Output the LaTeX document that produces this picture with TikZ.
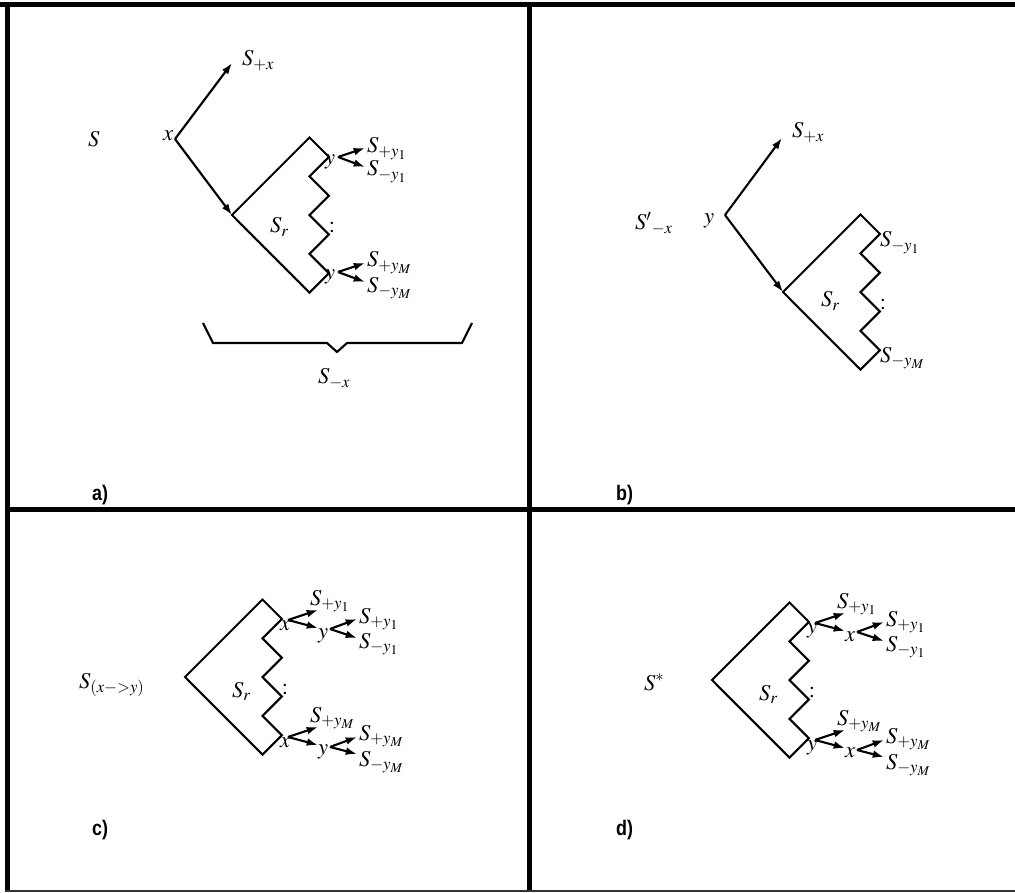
\documentclass[tikz,border=0pt]{standalone}
\usepackage{mathptmx}
\usepackage[no-math]{fontspec}
\newfontfamily\tagfont[FakeStretch=0.85]{Liberation Sans}
\usetikzlibrary{arrows.meta}

\begin{document}
\begin{tikzpicture}[x=0.025cm,y=-0.025cm,
    >={Latex[length=8pt,width=5.5pt]},line width=1.5pt,line join=miter,
    lbl/.style={inner sep=0pt,anchor=base west,font=\fontsize{16}{19}\selectfont},
    tag/.style={inner sep=0pt,anchor=base west,font=\tagfont\bfseries\fontsize{15}{18}\selectfont},
    frame/.style={line width=3.6pt},
    srbox/.pic={
        \draw (0,0) -- (77.5,-77.5)
            -- ++(19.4,19.4) -- ++(-19.4,19.4) -- ++(19.4,19.4) -- ++(-19.4,19.4)
            -- ++(19.4,19.4) -- ++(-19.4,19.4) -- ++(19.4,19.4) -- ++(-19.4,19.4)
            -- cycle;
        \node[lbl,anchor=center] (-dots) at (100,13) {$:$};
    }]
    \useasboundingbox (0,0) rectangle (1015,893);

    % cornice e divisori
    \draw[frame] (0,4.5) -- (1015,4.5);
    \draw[frame] (7.5,2) -- (7.5,892);
    \draw[frame] (529.5,2) -- (529.5,892);
    \draw[frame] (5,509.5) -- (1015,509.5);
    \draw[line width=1.4pt,black!80] (5,891) -- (1015,891);

    % pannello a
    \coordinate (La) at (232,215);
    \pic (ba) at (La) {srbox};
    \node[lbl] (Sa) at (87,147) {$S$};
    \coordinate (xa) at (175,139);
    \node[lbl] (xla) at (162,141) {$x$};
    \coordinate (pxa) at (232,63);
    \node[lbl] (Spxa) at (241,66) {$S_{+x}$};
    \draw[->] (xa) -- (pxa);
    \draw[->] (xa) -- (La);
    \node[lbl] (Sra) at (269,233) {$S_r$};
    % biforcazioni
    \coordinate (ya1) at (338,157);
    \coordinate (ta1) at (365,148);
    \coordinate (ta2) at (365,167);
    \node[lbl] (yla1) at (324,165) {$y$};
    \node[lbl] (Spya1) at (366,153) {$S_{+y_1}$};
    \node[lbl] (Smya1) at (366,176) {$S_{-y_1}$};
    \draw[->] (ya1) -- (ta1);
    \draw[->] (ya1) -- (ta2);
    \coordinate (ya2) at (338,272);
    \coordinate (ta3) at (365,263);
    \coordinate (ta4) at (365,282);
    \node[lbl] (yla2) at (324,280) {$y$};
    \node[lbl] (Spya2) at (366,267) {$S_{+y_M}$};
    \node[lbl] (Smya2) at (366,292) {$S_{-y_M}$};
    \draw[->] (ya2) -- (ta3);
    \draw[->] (ya2) -- (ta4);
    % parentesi graffa
    \draw (203,323) -- (213,343) -- (327,343) -- (337,352) -- (347,343)
        -- (462,343) -- (472,323);
    \node[lbl] (Smxa) at (317,384) {$S_{-x}$};
    \node[tag] (taga) at (91,500) {a)};

    % pannello b
    \coordinate (Lb) at (783,292);
    \pic (bb) at (Lb) {srbox};
    \node[lbl] (Sb) at (634,230) {$S'{}_{-x}$};
    \coordinate (yb) at (725,215);
    \node[lbl] (ylb) at (703,224) {$y$};
    \coordinate (pxb) at (782,138);
    \node[lbl] (Spxb) at (791,138) {$S_{+x}$};
    \draw[->] (yb) -- (pxb);
    \draw[->] (yb) -- (Lb);
    \node[lbl] (Srb) at (820,307) {$S_r$};
    \node[lbl] (Smyb1) at (879,247) {$S_{-y_1}$};
    \node[lbl] (Smyb2) at (879,362) {$S_{-y_M}$};
    \node[tag] (tagb) at (615,500) {b)};

    % pannelli c e d
    \foreach \pn/\dx/\dy/\p/\q in {c/0/0/x/y, d/527/3/y/x}{
        \begin{scope}[shift={(\dx,\dy)}]
            \coordinate (L\pn) at (185,677);
            \pic (b\pn) at (L\pn) {srbox};
            \node[lbl] (Sr\pn) at (231,697) {$S_r$};
            % ramo in alto
            \coordinate (\pn v1) at (288,620);
            \coordinate (\pn w1) at (330,629);
            \coordinate (\pn t1) at (318,610);
            \coordinate (\pn t2) at (318,628);
            \coordinate (\pn t3) at (357,619);
            \coordinate (\pn t4) at (357,638);
            \node[lbl] (\pn p1) at (279,630) {$\p$};
            \node[lbl] (\pn q1) at (317,638) {$\q$};
            \node[lbl] (\pn S1) at (309,605) {$S_{+y_1}$};
            \node[lbl] (\pn S2) at (358,623) {$S_{+y_1}$};
            \node[lbl] (\pn S3) at (358,648) {$S_{-y_1}$};
            \draw[->] (\pn v1) -- (\pn t1);
            \draw[->] (\pn v1) -- (\pn t2);
            \draw[->] (\pn w1) -- (\pn t3);
            \draw[->] (\pn w1) -- (\pn t4);
            % ramo in basso
            \coordinate (\pn v2) at (288,737);
            \coordinate (\pn w2) at (330,747);
            \coordinate (\pn t5) at (318,727);
            \coordinate (\pn t6) at (318,745);
            \coordinate (\pn t7) at (357,737);
            \coordinate (\pn t8) at (357,754);
            \node[lbl] (\pn p2) at (279,747) {$\p$};
            \node[lbl] (\pn q2) at (317,754) {$\q$};
            \node[lbl] (\pn S4) at (309,722) {$S_{+y_M}$};
            \node[lbl] (\pn S5) at (358,740) {$S_{+y_M}$};
            \node[lbl] (\pn S6) at (358,766) {$S_{-y_M}$};
            \draw[->] (\pn v2) -- (\pn t5);
            \draw[->] (\pn v2) -- (\pn t6);
            \draw[->] (\pn w2) -- (\pn t7);
            \draw[->] (\pn w2) -- (\pn t8);
        \end{scope}
    }
    \node[lbl] (Sc) at (78,688) {$S_{(x{-}{>}y)}$};
    \node[lbl] (Sd) at (643,690) {$S^{*}$};
    \node[tag] (tagc) at (91,835) {c)};
    \node[tag] (tagd) at (615,835) {d)};
\end{tikzpicture}
\end{document}
